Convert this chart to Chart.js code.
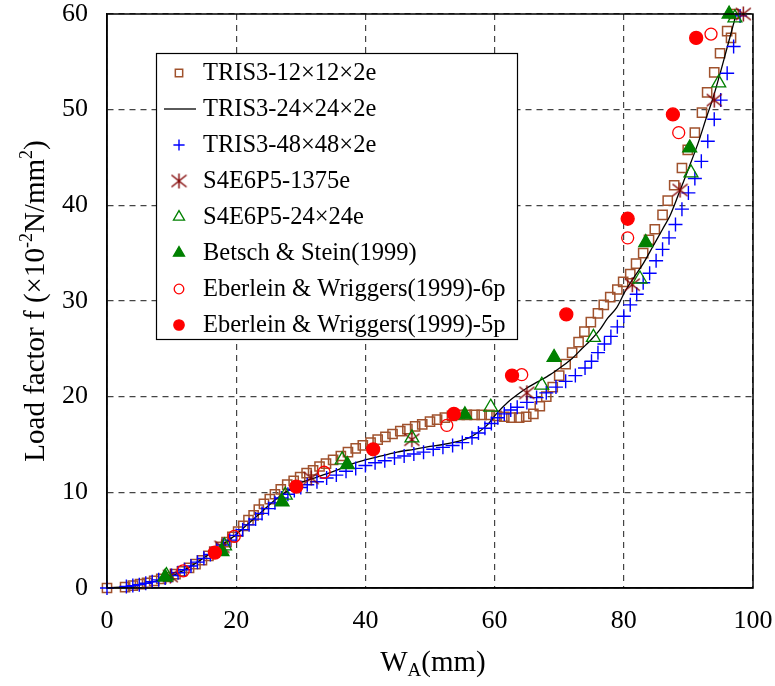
<!DOCTYPE html>
<html>
<head>
<meta charset="utf-8">
<script src="https://cdn.jsdelivr.net/npm/chart.js@4.4.0/dist/chart.umd.min.js"></script>
<style>
  html, body { margin: 0; padding: 0; background: #fff; }
  #wrap { width: 775px; height: 686px; }
</style>
</head>
<body>
<div id="wrap"><canvas id="loadChart"></canvas></div>
<script>
// Datos (W_A en mm, f en 10^-2 N/mm2)
const xTicks = [0, 20, 40, 60, 80, 100];
const yTicks = [0, 10, 20, 30, 40, 50, 60];

const tris12X = [0, 2.8, 4.0, 5.1, 6.2, 7.3, 8.4, 9.5, 10.6, 11.6, 12.7, 13.7, 14.7, 15.7, 16.6, 17.6, 18.5, 19.4, 20.3, 21.1,
  21.9, 22.7, 23.5, 24.3, 25.2, 26.0, 26.9, 27.9, 28.9, 29.9, 30.9, 31.9, 32.9, 33.9, 35.0, 36.2, 37.3, 38.5, 39.6, 40.8,
  41.9, 43.1, 44.2, 45.4, 46.5, 47.7, 48.8, 50.0, 51.1, 52.3, 53.4, 54.6, 55.7, 56.9, 58.0, 59.2, 60.3, 61.5, 62.6, 63.8,
  64.9, 66.0, 67.0, 68.0, 69.0, 70.0, 71.0, 72.0, 73.0, 73.9, 74.9, 76.0, 76.9, 77.9, 79.0, 79.9, 81.0, 81.9, 83.0, 83.9,
  84.8, 86.0, 86.8, 87.8, 89.0, 89.9, 91.0, 92.1, 92.9, 94.0, 94.9, 96.0, 96.6, 97.0];
const tris12Y = [0, 0.1, 0.25, 0.4, 0.55, 0.75, 0.95, 1.15, 1.45, 1.75, 2.1, 2.5, 2.9, 3.35, 3.8, 4.3, 4.8, 5.35, 5.9, 6.5,
  7.1, 7.6, 8.2, 8.8, 9.3, 9.8, 10.3, 10.8, 11.2, 11.6, 12.0, 12.3, 12.7, 13.0, 13.4, 13.8, 14.2, 14.6, 14.9, 15.2,
  15.5, 15.8, 16.1, 16.4, 16.6, 16.9, 17.1, 17.4, 17.6, 17.8, 18.0, 18.1, 18.1, 18.1, 18.1, 18.1, 18.0, 17.9, 17.8, 17.8,
  17.9, 18.2, 19.0, 20.0, 21.0, 22.2, 23.4, 24.6, 25.7, 26.8, 27.8, 28.7, 29.6, 30.4, 31.2, 32.0, 32.8, 33.9, 35.0, 36.4,
  37.5, 39.0, 40.5, 42.1, 43.9, 45.8, 47.6, 49.7, 51.8, 53.9, 55.9, 58.2, 57.5, 60.0];

const tris24X = [0, 4, 8, 10, 12, 14, 16, 18, 20, 22, 24, 26, 28, 30, 32.5, 35.5, 37.6, 40, 42.5, 44.9, 47.5, 50, 52, 54.2,
  56, 57.3, 58.8, 60.4, 62, 63.5, 65, 66.8, 68.6, 70.5, 72, 73.5, 75, 76.3, 77.5, 78.9, 80.2, 81.5, 83, 84.5, 86, 87.2,
  88.5, 90, 91.5, 92.8, 93.8, 95, 96, 97, 97.4];
const tris24Y = [0, 0.2, 0.8, 1.25, 1.9, 2.7, 3.6, 4.6, 5.6, 6.8, 8.0, 9.2, 10.2, 11.0, 11.6, 12.3, 12.9, 13.4, 13.8, 14.2,
  14.5, 14.8, 15.0, 15.3, 15.7, 16.2, 17.0, 18.3, 19.4, 20.2, 20.9, 21.6, 22.3, 23.2, 24.0, 25.0, 26.0, 27.0, 28.2, 29.3,
  31.0, 32.4, 33.9, 35.7, 37.5, 39.0, 41.2, 43.8, 46.5, 49.2, 51.2, 54.0, 56.5, 59.0, 60.0];

const tris48X = [0, 3, 4, 5, 6, 7, 8, 9, 10, 11, 12, 13, 14, 15, 16, 17, 18, 19, 20, 21, 22, 23, 24, 25, 26, 27, 28, 29, 30,
  31, 32.5, 34, 35.5, 37, 38.5, 40, 41.5, 43, 44.5, 46, 47.5, 49, 50.5, 52, 53.5, 55, 56.5, 57.5, 58.5, 59.5, 60.5, 61.5,
  62.5, 63.5, 65, 66.5, 68, 69.5, 71, 72.5, 74, 75, 76, 77, 78, 79, 80, 81, 82, 83, 84, 85, 86, 87, 88, 89, 90, 91, 92,
  93, 94, 95, 96, 97, 98];
const tris48Y = [0, 0.15, 0.25, 0.35, 0.5, 0.65, 0.85, 1.05, 1.3, 1.6, 1.9, 2.3, 2.7, 3.1, 3.5, 4.0, 4.5, 5.0, 5.5, 6.1,
  6.6, 7.2, 7.8, 8.3, 8.9, 9.4, 9.8, 10.2, 10.5, 10.8, 11.1, 11.5, 11.8, 12.2, 12.5, 12.8, 13.1, 13.3, 13.6, 13.8, 14.0,
  14.2, 14.5, 14.7, 14.9, 15.2, 15.7, 16.2, 16.7, 17.2, 17.8, 18.2, 18.6, 18.9, 19.4, 19.9, 20.4, 21.0, 21.6, 22.2, 23.0,
  23.7, 24.6, 25.5, 26.3, 27.3, 28.4, 29.6, 30.7, 31.9, 32.9, 34.2, 35.4, 36.6, 38.0, 39.6, 41.3, 42.8, 44.6, 46.7, 49.0,
  51.0, 53.8, 56.6, 59.8];

const s1375X = [9.8, 17.8, 31.6, 47.2, 65.0, 81.3, 88.7, 94.0, 98.5];
const s1375Y = [1.25, 4.3, 11.5, 15.5, 20.4, 31.7, 41.6, 51.0, 60.0];

const s24X = [9.2, 18.2, 27.6, 36.4, 47.2, 59.4, 67.3, 75.3, 82.5, 90.4, 94.7, 97.2];
const s24Y = [1.3, 4.4, 9.7, 13.4, 15.7, 18.9, 21.2, 26.2, 32.3, 43.4, 52.8, 59.6];

const betschX = [9.0, 17.8, 27.1, 37.2, 55.4, 69.2, 83.4, 90.2, 96.3];
const betschY = [1.15, 3.8, 9.0, 12.9, 18.1, 24.1, 36.1, 46.0, 60.0];

const eber6X = [11.8, 19.7, 33.6, 52.6, 64.2, 80.6, 88.5, 93.5];
const eber6Y = [1.8, 5.4, 12.1, 17.0, 22.3, 36.6, 47.6, 57.9];

const eber5X = [16.7, 29.3, 41.2, 53.7, 62.7, 71.1, 80.6, 87.6, 91.2];
const eber5Y = [3.7, 10.6, 14.5, 18.2, 22.2, 28.6, 38.6, 49.5, 57.5];

const seriesNames = [
  'TRIS3-12×12×2e', 'TRIS3-24×24×2e', 'TRIS3-48×48×2e', 'S4E6P5-1375e',
  'S4E6P5-24×24e', 'Betsch & Stein(1999)', 'Eberlein & Wriggers(1999)-6p', 'Eberlein & Wriggers(1999)-5p'
];

function toPoints(xs, ys) {
  return xs.map((x, i) => ({ x: x, y: ys[i] }));
}

// Marcador asterisco (X con trazo vertical)
function makeAsterisk(size, color) {
  const c = document.createElement('canvas');
  c.width = size; c.height = size;
  const g = c.getContext('2d');
  g.strokeStyle = color;
  g.lineWidth = 1.4;
  const m = size / 2, r = size / 2 - 1;
  g.beginPath();
  g.moveTo(m - r, m - r * 0.8); g.lineTo(m + r, m + r * 0.8);
  g.moveTo(m + r, m - r * 0.8); g.lineTo(m - r, m + r * 0.8);
  g.moveTo(m, m - r); g.lineTo(m, m + r);
  g.stroke();
  return c;
}
const asterisk = makeAsterisk(17, '#800000');

const serif = "'Liberation Serif', 'Times New Roman', serif";

// Dibuja texto con sub/superíndices
function drawRich(ctx, parts, cx, y) {
  let total = 0;
  parts.forEach(p => {
    ctx.font = p.size + 'px ' + serif;
    p.w = ctx.measureText(p.t).width;
    total += p.w;
  });
  let x = cx - total / 2;
  parts.forEach(p => {
    ctx.font = p.size + 'px ' + serif;
    ctx.fillText(p.t, x, y + p.dy);
    x += p.w;
  });
}

const decorPlugin = {
  id: 'decor',
  afterDraw(chart) {
    const ctx = chart.ctx;
    const a = chart.chartArea;
    ctx.save();
    // marco del gráfico
    ctx.strokeStyle = '#000';
    ctx.lineWidth = 1.5;
    ctx.setLineDash([]);
    ctx.strokeRect(a.left, a.top, a.right - a.left, a.bottom - a.top);

    ctx.fillStyle = '#000';
    ctx.textAlign = 'left';
    ctx.textBaseline = 'alphabetic';
    // título eje X
    drawRich(ctx, [
      { t: 'W', size: 29, dy: 0 },
      { t: 'A', size: 19, dy: 5 },
      { t: '(mm)', size: 29, dy: 0 }
    ], 433, 671);
    // título eje Y
    ctx.translate(44, 301);
    ctx.rotate(-Math.PI / 2);
    drawRich(ctx, [
      { t: 'Load factor f (×10', size: 29, dy: 0 },
      { t: '-2', size: 18, dy: -12 },
      { t: 'N/mm', size: 29, dy: 0 },
      { t: '2', size: 18, dy: -12 },
      { t: ')', size: 29, dy: 0 }
    ], 0, 0);
    ctx.restore();

    // leyenda
    ctx.save();
    ctx.fillStyle = '#fff';
    ctx.fillRect(156, 53, 361, 286);
    ctx.strokeStyle = '#000';
    ctx.lineWidth = 1.2;
    ctx.strokeRect(156.5, 53.5, 361, 286);
    chart.data.datasets.forEach((ds, i) => {
      const y = 73 + i * 36;
      ctx.save();
      if (ds.showLine) {
        ctx.strokeStyle = ds.borderColor;
        ctx.lineWidth = 1.3;
        ctx.beginPath();
        ctx.moveTo(164, y);
        ctx.lineTo(196, y);
        ctx.stroke();
      } else {
        ctx.strokeStyle = ds.pointBorderColor;
        ctx.fillStyle = ds.pointBackgroundColor;
        ctx.lineWidth = ds.pointBorderWidth;
        Chart.helpers.drawPoint(ctx, {
          pointStyle: ds.pointStyle,
          radius: ds.pointRadius * 0.8,
          borderWidth: ds.pointBorderWidth,
          rotation: 0
        }, 179, y);
      }
      ctx.restore();
      ctx.fillStyle = '#000';
      ctx.font = '24.5px ' + serif;
      ctx.textAlign = 'left';
      ctx.textBaseline = 'middle';
      ctx.fillText(seriesNames[i], 203, y + 1);
    });
    ctx.restore();
  }
};

function markerSet(name, xs, ys, style, radius, stroke, fill, order, width) {
  return {
    label: name,
    data: toPoints(xs, ys),
    showLine: false,
    pointStyle: style,
    pointRadius: radius,
    pointHoverRadius: radius,
    pointBorderWidth: width || 1.3,
    pointBorderColor: stroke,
    pointBackgroundColor: fill,
    borderColor: stroke,
    backgroundColor: fill,
    clip: false,
    order: order
  };
}

document.addEventListener('DOMContentLoaded', function() {
  const ctx = document.getElementById('loadChart');
  new Chart(ctx, {
    type: 'scatter',
    data: {
      datasets: [
        markerSet(seriesNames[0], tris12X, tris12Y, 'rect', 6.5, '#a0522d', 'rgba(0,0,0,0)', 8, 1.5),
        {
          label: seriesNames[1],
          data: toPoints(tris24X, tris24Y),
          showLine: true,
          borderColor: '#000',
          borderWidth: 1.3,
          pointRadius: 0,
          pointHoverRadius: 0,
          tension: 0.3,
          fill: false,
          order: 7
        },
        markerSet(seriesNames[2], tris48X, tris48Y, 'cross', 7, '#0000ff', '#0000ff', 6, 1.4),
        markerSet(seriesNames[3], s1375X, s1375Y, asterisk, 8, '#800000', '#800000', 5),
        markerSet(seriesNames[4], s24X, s24Y, 'triangle', 8, '#008000', 'rgba(0,0,0,0)', 4),
        markerSet(seriesNames[5], betschX, betschY, 'triangle', 8, '#008000', '#008000', 3),
        markerSet(seriesNames[6], eber6X, eber6Y, 'circle', 6, '#ff0000', 'rgba(0,0,0,0)', 2),
        markerSet(seriesNames[7], eber5X, eber5Y, 'circle', 6.5, '#ff0000', '#ff0000', 1)
      ]
    },
    options: {
      responsive: true,
      maintainAspectRatio: false,
      animation: false,
      layout: { padding: { left: 0, top: 14, right: 22, bottom: 0 } },
      plugins: {
        legend: { display: false },
        tooltip: { enabled: false }
      },
      scales: {
        x: {
          type: 'linear',
          min: 0,
          max: 100,
          afterBuildTicks: scale => { scale.ticks = xTicks.map(v => ({ value: v })); },
          afterFit: scale => {
            scale.height = 98;
            scale.paddingLeft = 0;
            scale.paddingRight = 0;
          },
          ticks: {
            color: '#000',
            padding: 18,
            font: { family: serif, size: 26 }
          },
          grid: {
            color: '#444',
            lineWidth: 1.2,
            drawTicks: false
          },
          border: { display: true, color: '#000', width: 1.5, dash: [6, 5] }
        },
        y: {
          type: 'linear',
          min: 0,
          max: 60,
          afterBuildTicks: scale => { scale.ticks = yTicks.map(v => ({ value: v })); },
          afterFit: scale => {
            scale.width = 107;
            scale.paddingTop = 0;
            scale.paddingBottom = 0;
          },
          ticks: {
            color: '#000',
            padding: 19,
            font: { family: serif, size: 26 }
          },
          grid: {
            color: '#444',
            lineWidth: 1.2,
            drawTicks: false
          },
          border: { display: true, color: '#000', width: 1.5, dash: [6, 5] }
        }
      }
    },
    plugins: [decorPlugin]
  });
});
</script>
</body>
</html>
